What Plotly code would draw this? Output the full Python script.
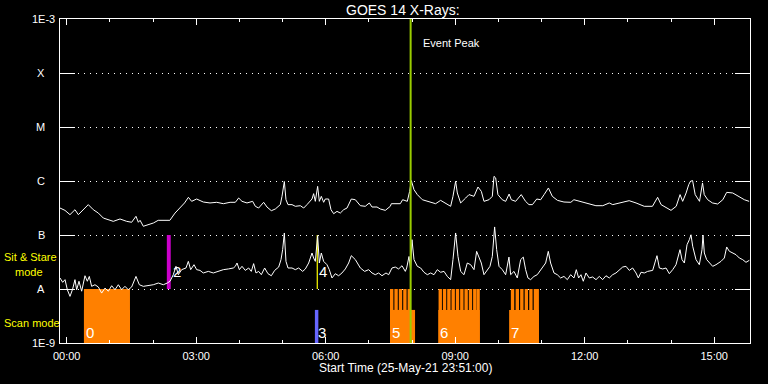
import math
import plotly.graph_objects as go

# ---------------- data (hours after 26-May-21 00:00, flux in units of 1e-7 W/m^2) -------------
hours_long = [-0.155, -0.04, 0.076, 0.192, 0.27, 0.385, 0.50, 0.617, 0.733, 0.849, 0.965, 1.08, 1.235, 1.39,
              1.505, 1.605, 1.66, 1.70, 1.775, 1.89, 2.01, 2.12, 2.28, 2.39, 2.51, 2.62, 2.73, 2.82, 2.895,
              3.01, 3.165, 3.32, 3.475, 3.63, 3.785, 3.907, 3.984, 4.061, 4.177, 4.308, 4.37, 4.447, 4.563,
              4.64, 4.741, 4.833, 4.949, 4.988, 5.042, 5.08, 5.127, 5.22, 5.297, 5.413, 5.49, 5.567, 5.683,
              5.721, 5.76, 5.814, 5.853, 5.899, 5.953, 5.991, 6.068, 6.123, 6.185, 6.262, 6.339, 6.417, 6.494,
              6.594, 6.687, 6.803, 6.918, 7.011, 7.073, 7.189, 7.266, 7.382, 7.497, 7.521, 7.729, 7.783, 7.891,
              7.945, 7.984, 8.046, 8.123, 8.239, 8.393, 8.547, 8.663, 8.779, 8.895, 8.949, 9.01, 9.05, 9.127,
              9.243, 9.32, 9.436, 9.528, 9.606, 9.667, 9.783, 9.86, 9.899, 9.938, 9.99, 10.09, 10.17, 10.25,
              10.30, 10.40, 10.53, 10.63, 10.71, 10.79, 10.89, 10.98, 11.06, 11.16, 11.25, 11.37, 11.52, 11.68,
              11.75, 11.95, 12.11, 12.26, 12.42, 12.57, 12.65, 12.80, 13.03, 13.19, 13.38, 13.57, 13.69, 13.77,
              13.88, 14.0, 14.12, 14.21, 14.27, 14.35, 14.41, 14.45, 14.50, 14.56, 14.66, 14.73, 14.77, 14.85,
              14.96, 15.08, 15.20, 15.29, 15.43, 15.58, 15.70, 15.81]
long_B = [3.16, 2.86, 2.38, 2.94, 2.38, 2.94, 3.65, 2.94, 2.55, 2.06, 1.92, 1.79, 1.98, 1.79,
          1.72, 2.22, 1.72, 1.87, 1.45, 1.55, 1.67, 1.87, 1.84, 1.87, 2.55, 3.16, 3.92, 4.99, 4.2,
          4.64, 4.08, 3.92, 4.03, 3.8, 4.03, 4.03, 4.84, 4.2, 3.92, 4.2, 3.4, 3.16, 4.03,
          3.3, 2.82, 3.03, 3.65, 5.2, 9.8, 4.51, 3.65, 3.65, 3.4, 3.49, 3.16, 3.65, 4.64,
          5.83, 4.2, 7.96, 4.2, 5.2, 4.03, 4.64, 4.64, 2.94, 2.48, 2.74, 2.55, 2.94, 3.16,
          4.64, 4.5, 3.49, 3.4, 3.92, 3.3, 3.3, 3.03, 2.86, 3.4, 3.8, 3.8, 4.5, 4.2,
          6.43, 10.2, 6.9, 5.6, 4.5, 4.2, 3.8, 4.38, 3.92, 3.4, 5.2, 9.86, 6.0, 3.92,
          4.84, 5.6, 5.2, 7.74, 6.43, 4.2, 4.5, 5.2, 12.2, 11.4, 5.6, 4.5, 4.2, 5.74,
          4.5, 4.2, 5.6, 4.2, 3.65, 3.65, 4.64, 4.5, 5.6, 7.43, 5.2, 4.38, 4.08, 4.03,
          4.5, 4.03, 3.75, 3.49, 3.49, 3.92, 3.65, 3.92, 4.32, 3.92, 3.4, 3.4, 4.99, 3.65,
          3.3, 2.86, 3.4, 5.6, 4.2, 6.0, 8.55, 9.86, 10.2, 5.6, 4.2, 9.2, 5.6, 4.5,
          3.92, 3.75, 4.5, 6.16, 6.0, 5.2, 4.5, 4.2]

hours_short = [-0.155, -0.093, -0.039, 0.015, 0.077, 0.138, 0.192, 0.231, 0.285, 0.347, 0.424, 0.478, 0.524,
               0.578, 0.655, 0.733, 0.81, 0.887, 0.965, 1.042, 1.119, 1.196, 1.273, 1.35, 1.427, 1.505, 1.605,
               1.683, 1.775, 1.891, 2.007, 2.123, 2.239, 2.331, 2.393, 2.47, 2.532, 2.586, 2.663, 2.764, 2.818,
               2.872, 2.949, 3.011, 3.088, 3.165, 3.281, 3.397, 3.513, 3.629, 3.745, 3.861, 3.907, 3.946, 4.0,
               4.061, 4.138, 4.216, 4.277, 4.331, 4.385, 4.447, 4.509, 4.586, 4.663, 4.741, 4.818, 4.911, 4.965,
               5.003, 5.042, 5.08, 5.127, 5.22, 5.297, 5.374, 5.467, 5.529, 5.606, 5.683, 5.721, 5.76, 5.814,
               5.853, 5.899, 5.953, 6.03, 6.084, 6.146, 6.223, 6.3, 6.377, 6.455, 6.532, 6.594, 6.687, 6.803,
               6.903, 6.996, 7.073, 7.15, 7.227, 7.304, 7.397, 7.459, 7.536, 7.613, 7.69, 7.768, 7.845, 7.876,
               7.93, 7.968, 7.999, 8.046, 8.123, 8.2, 8.277, 8.355, 8.432, 8.509, 8.586, 8.663, 8.741, 8.818,
               8.895, 8.949, 9.01, 9.065, 9.127, 9.204, 9.281, 9.358, 9.436, 9.497, 9.552, 9.605, 9.667, 9.744,
               9.806, 9.86, 9.914, 9.961, 10.015, 10.092, 10.169, 10.246, 10.285, 10.362, 10.439, 10.517, 10.578,
               10.632, 10.686, 10.748, 10.825, 10.902, 10.98, 11.096, 11.157, 11.211, 11.289, 11.366, 11.443,
               11.52, 11.598, 11.675, 11.752, 11.806, 11.86, 11.914, 11.968, 12.03, 12.107, 12.184, 12.262,
               12.339, 12.416, 12.493, 12.571, 12.648, 12.725, 12.802, 12.88, 12.957, 13.034, 13.111, 13.189,
               13.243, 13.305, 13.382, 13.459, 13.575, 13.675, 13.73, 13.807, 13.884, 13.961, 14.039, 14.116,
               14.208, 14.255, 14.309, 14.371, 14.425, 14.463, 14.502, 14.579, 14.656, 14.718, 14.741, 14.772,
               14.826, 14.888, 14.965, 15.042, 15.158, 15.235, 15.29, 15.351, 15.429, 15.506, 15.583, 15.66,
               15.737, 15.815]
short_B = [0.16, 0.133, 0.149, 0.097, 0.073, 0.1, 0.149, 0.097, 0.139, 0.091, 0.176, 0.139, 0.171,
           0.112, 0.12, 0.109, 0.084, 0.104, 0.091, 0.115, 0.097, 0.12, 0.097, 0.112, 0.097, 0.109, 0.171,
           0.12, 0.112, 0.115, 0.12, 0.129, 0.12, 0.129, 0.139, 0.184, 0.263, 0.184, 0.228, 0.245, 0.325,
           0.228, 0.282, 0.228, 0.221, 0.198, 0.212, 0.198, 0.212, 0.228, 0.235, 0.245, 0.263, 0.303, 0.228,
           0.263, 0.221, 0.245, 0.212, 0.295, 0.198, 0.212, 0.184, 0.245, 0.192, 0.176, 0.221, 0.255, 0.35,
           0.535, 1.09, 0.325, 0.245, 0.245, 0.228, 0.245, 0.212, 0.235, 0.303, 0.464, 0.375, 0.325, 0.97,
           0.303, 0.464, 0.325, 0.282, 0.228, 0.16, 0.192, 0.176, 0.198, 0.235, 0.303, 0.414, 0.35, 0.245,
           0.212, 0.228, 0.198, 0.184, 0.198, 0.176, 0.198, 0.184, 0.245, 0.255, 0.235, 0.27, 0.212, 0.245,
           0.40, 0.228, 0.82, 0.35, 0.263, 0.245, 0.204, 0.184, 0.198, 0.184, 0.228, 0.204, 0.212, 0.171,
           0.149, 0.35, 1.09, 0.40, 0.212, 0.184, 0.303, 0.282, 0.228, 0.498, 0.40, 0.303, 0.184, 0.228,
           0.263, 0.40, 1.41, 0.535, 0.263, 0.228, 0.184, 0.39, 0.184, 0.212, 0.16, 0.35, 0.39,
           0.228, 0.16, 0.149, 0.171, 0.184, 0.228, 0.303, 0.498, 0.303, 0.198, 0.184, 0.16,
           0.171, 0.149, 0.184, 0.16, 0.228, 0.16, 0.184, 0.139, 0.198, 0.16, 0.167, 0.149,
           0.171, 0.149, 0.176, 0.16, 0.184, 0.198, 0.228, 0.255, 0.263, 0.221, 0.245, 0.198,
           0.16, 0.204, 0.198, 0.212, 0.221, 0.414, 0.245, 0.235, 0.245, 0.192, 0.228, 0.282,
           0.535, 0.35, 0.303, 0.66, 0.82, 1.01, 0.62, 0.35, 0.282, 0.535, 1.0, 0.464,
           0.35, 0.303, 0.263, 0.282, 0.325, 0.375, 0.60, 0.50, 0.464, 0.432, 0.375, 0.35,
           0.312, 0.34]

# scan-mode observations (IDs, time spans, individual raster starts)
scan_ids = ["0", "5", "6", "7"]
scan_start = [0.40, 7.49, 8.61, 10.25]
scan_end = [1.466, 8.07, 9.57, 10.94]
raster_starts = [[0.40],
                 [7.49, 7.592, 7.694, 7.796, 7.898],
                 [8.615, 8.715, 8.815, 8.915, 9.015, 9.115, 9.215, 9.315, 9.415, 9.495],
                 [10.29, 10.40, 10.505, 10.61, 10.715, 10.82]]
raster_end_last = [1.466, 7.977, 9.57, 10.94]
raster_len = 0.078
scan_base_flux = 4.1e-9

# sit & stare observation "2", scan "3" and sit & stare "4"
sit_id, sit_start, sit_end = "2", 2.32, 2.41
scan3_id, scan3_start, scan3_end = "3", 5.75, 5.83
sit4_id, sit4_time = "4", 5.805

event_peak = 7.968

level_vals = [1e-3, 1e-4, 1e-5, 1e-6, 1e-7, 1e-8, 1e-9]
level_text = ["1E-3", "X", "M", "C", "B", "A", "1E-9"]
tick_hours = [0, 3, 6, 9, 12, 15]
tick_text = ["00:00", "03:00", "06:00", "09:00", "12:00", "15:00"]

ORANGE = "#ff8000"
FONT = "Liberation Sans"

fig = go.Figure()


def rect(x0, x1, y0, y1, color):
    fig.add_trace(go.Scatter(x=[x0, x0, x1, x1, x0], y=[y0, y1, y1, y0, y0], mode="lines",
                             fill="toself", fillcolor=color, line=dict(width=0, color=color),
                             hoverinfo="skip"))


# scan bars
for s, e, rs, rl in zip(scan_start, scan_end, raster_starts, raster_end_last):
    rect(s, e, 1e-9, scan_base_flux, ORANGE)
    for i, r0 in enumerate(rs):
        r1 = rl if i == len(rs) - 1 else r0 + raster_len
        rect(r0, r1, 1e-9, 1e-8, ORANGE)

rect(scan3_start, scan3_end, 1e-9, scan_base_flux, "#6666ff")
rect(sit_start, sit_end, 1e-8, 1e-7, "#cc00cc")
fig.add_trace(go.Scatter(x=[sit4_time, sit4_time], y=[1e-8, 1e-7], mode="lines",
                         line=dict(color="#ffff00", width=1.2), hoverinfo="skip"))

# GOES curves
fig.add_trace(go.Scatter(x=hours_long, y=[v * 1e-7 for v in long_B], mode="lines",
                         line=dict(color="white", width=1), hoverinfo="skip"))
fig.add_trace(go.Scatter(x=hours_short, y=[v * 1e-7 for v in short_B], mode="lines",
                         line=dict(color="white", width=1), hoverinfo="skip"))

# event peak
fig.add_trace(go.Scatter(x=[event_peak, event_peak], y=[1e-9, 1e-3], mode="lines",
                         line=dict(color="#99cc00", width=2), hoverinfo="skip"))

ann = []
for v, t in zip(level_vals, level_text):
    shift = -3 if t.startswith("1E") else -13
    ann.append(dict(x=0, xref="paper", y=math.log10(v), yref="y", text=t, showarrow=False,
                    xanchor="right", yanchor="middle", xshift=shift,
                    font=dict(family=FONT, size=11, color="white")))
ann.append(dict(x=0.5, xref="paper", y=1, yref="paper", text="GOES 14 X-Rays:", showarrow=False,
                xanchor="center", yanchor="middle", yshift=9, xshift=-2,
                font=dict(family=FONT, size=14, color="white")))
ann.append(dict(x=0.5, xref="paper", y=0, yref="paper", text="Start Time (25-May-21 23:51:00)",
                showarrow=False, xanchor="center", yanchor="middle", yshift=-25,
                font=dict(family=FONT, size=12, color="white")))
ann.append(dict(x=0, xref="paper", y=1, yref="paper", text="Sit & Stare", showarrow=False,
                xanchor="left", yanchor="middle", xshift=-58, yshift=-(257 - 19),
                font=dict(family=FONT, size=11, color="#ffff00")))
ann.append(dict(x=0, xref="paper", y=1, yref="paper", text="mode", showarrow=False,
                xanchor="left", yanchor="middle", xshift=-47, yshift=-(272 - 19),
                font=dict(family=FONT, size=11, color="#ffff00")))
ann.append(dict(x=0, xref="paper", y=1, yref="paper", text="Scan mode", showarrow=False,
                xanchor="left", yanchor="middle", xshift=-58, yshift=-(323 - 19),
                font=dict(family=FONT, size=11, color="#ffff00")))
ann.append(dict(x=event_peak, xref="x", y=1, yref="paper", text="Event Peak", showarrow=False,
                xanchor="left", yanchor="middle", xshift=10, yshift=-24,
                font=dict(family=FONT, size=11, color="white")))
for sid, s in zip(scan_ids, scan_start):
    ann.append(dict(x=s, xref="x", y=-9, yref="y", text=sid, showarrow=False,
                    xanchor="left", yanchor="bottom", xshift=0, yshift=0,
                    font=dict(family=FONT, size=15, color="white")))
ann.append(dict(x=scan3_start, xref="x", y=-9, yref="y", text=scan3_id, showarrow=False,
                xanchor="left", yanchor="bottom", xshift=1, yshift=0,
                font=dict(family=FONT, size=15, color="white")))
ann.append(dict(x=sit_end, xref="x", y=-7.68, yref="y", text=sit_id, showarrow=False,
                xanchor="left", yanchor="middle", font=dict(family=FONT, size=15, color="white")))
ann.append(dict(x=sit4_time, xref="x", y=-7.68, yref="y", text=sit4_id, showarrow=False,
                xanchor="left", yanchor="middle", font=dict(family=FONT, size=15, color="white")))

fig.update_layout(width=768, height=384, margin=dict(l=60, r=18, t=19, b=41),
                  paper_bgcolor="black", plot_bgcolor="black", showlegend=False,
                  font=dict(family=FONT, color="white"), annotations=ann)
fig.update_xaxes(range=[-0.155, 15.83], showline=True, linecolor="white", linewidth=1, mirror="allticks",
                 ticks="inside", ticklen=6, tickcolor="white", tickwidth=1,
                 tickmode="array", tickvals=tick_hours, ticktext=tick_text, ticklabelstandoff=3,
                 tickfont=dict(family=FONT, size=11, color="white"), showgrid=False, zeroline=False,
                 minor=dict(tickmode="array", tickvals=list(range(0, 16)), ticklen=3, ticks="inside",
                            tickcolor="white", showgrid=False))
fig.update_yaxes(type="log", range=[-9, -3], showline=True, linecolor="white", linewidth=1, mirror="allticks",
                 ticks="inside", ticklen=15, tickcolor="white", tickwidth=1,
                 tickmode="array", tickvals=level_vals[1:-1], showticklabels=False,
                 showgrid=True, gridcolor="white", gridwidth=1, griddash="1px,5px", zeroline=False)

fig.write_html("out.html")
